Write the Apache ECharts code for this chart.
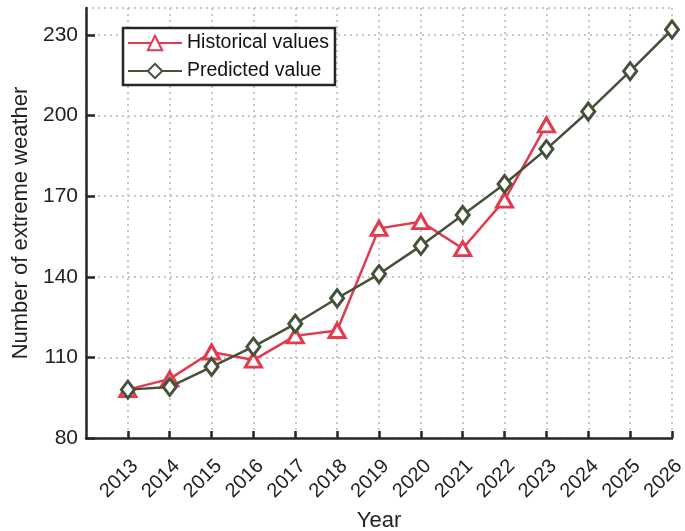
<!DOCTYPE html>
<html>
<head>
<meta charset="utf-8">
<script src="https://cdn.jsdelivr.net/npm/echarts@6/dist/echarts.min.js"></script>
<style>
  html, body { margin: 0; padding: 0; background: #fff; }
  #chart { width: 685px; height: 531px; }
</style>
</head>
<body>
<div id="chart"></div>
<script>
// Yearly counts of extreme weather events
const years = [2013, 2014, 2015, 2016, 2017, 2018, 2019, 2020, 2021, 2022, 2023, 2024, 2025, 2026];
const historical = [98, 102, 112, 109, 118, 120, 158, 160.5, 150.5, 168.5, 196.5];
const predicted = [98, 99, 106.5, 114, 122.5, 132, 141, 151.5, 163, 174.5, 187.5, 201.5, 216.5, 232];
const yTicks = [80, 110, 140, 170, 200, 230];

const RED = '#E23A4E';
const GREEN = '#435239';
const AXIS = '#262626';
const FONT = '"Liberation Sans", Arial, sans-serif';

const pairs = (vals) => vals.map((v, i) => [years[i], v]);

const chart = echarts.init(document.getElementById('chart'), null, { renderer: 'canvas' });
chart.setOption({
  animation: false,
  backgroundColor: '#fff',
  textStyle: { fontFamily: FONT },
  grid: { left: 86, right: 13, top: 8, bottom: 93, containLabel: false, outerBoundsMode: 'none' },
  legend: {
    left: 123, top: 28,
    orient: 'vertical',
    backgroundColor: '#fff',
    borderColor: AXIS, borderWidth: 2.5, borderRadius: 0,
    padding: [5, 6, 4, 4],
    itemGap: 8,
    itemWidth: 54, itemHeight: 18,
    textStyle: { fontSize: 19.5, color: '#111', fontFamily: FONT },
    data: ['Historical values', 'Predicted value']
  },
  xAxis: {
    type: 'value',
    min: 2012, max: 2026, interval: 1,
    name: 'Year', nameLocation: 'middle', nameGap: 72,
    nameTextStyle: { fontSize: 22, color: '#222', fontFamily: FONT },
    axisLine: { show: true, lineStyle: { color: AXIS, width: 2.5 } },
    axisTick: { show: true, inside: true, length: 7, lineStyle: { color: AXIS, width: 2.5 } },
    axisLabel: {
      rotate: 45, fontSize: 20, color: '#222', margin: 18, fontFamily: FONT,
      align: 'right', verticalAlign: 'top',
      formatter: (v) => (years.indexOf(v) >= 0 ? String(v) : ''),
      showMinLabel: false
    },
    splitLine: { show: true, lineStyle: { color: '#c8c8c8', type: [2, 4], width: 2 } }
  },
  yAxis: {
    type: 'value',
    min: 80, max: 240, interval: 30,
    name: 'Number of extreme weather', nameLocation: 'middle', nameGap: 53,
    nameTextStyle: { fontSize: 22, color: '#222', fontFamily: FONT },
    axisLine: { show: true, lineStyle: { color: AXIS, width: 2.5 } },
    axisTick: { show: true, inside: true, length: 9, lineStyle: { color: AXIS, width: 2.5 } },
    axisLabel: {
      fontSize: 21, color: '#222', margin: 8, fontFamily: FONT,
      showMaxLabel: false,
      formatter: (v) => (yTicks.indexOf(v) >= 0 ? String(v) : '')
    },
    splitLine: { show: true, lineStyle: { color: '#c8c8c8', type: [2, 4], width: 2 } }
  },
  series: [
    {
      name: 'Historical values',
      type: 'line',
      data: pairs(historical),
      symbol: 'triangle',
      symbolSize: [16, 14],
      showAllSymbol: true,
      lineStyle: { color: RED, width: 2.5 },
      itemStyle: { color: '#fff', borderColor: RED, borderWidth: 3 },
      z: 2
    },
    {
      name: 'Predicted value',
      type: 'line',
      data: pairs(predicted),
      symbol: 'diamond',
      symbolSize: [13, 17],
      showAllSymbol: true,
      lineStyle: { color: GREEN, width: 2.5 },
      itemStyle: { color: '#fff', borderColor: GREEN, borderWidth: 3 },
      z: 3
    }
  ]
});
</script>
</body>
</html>
